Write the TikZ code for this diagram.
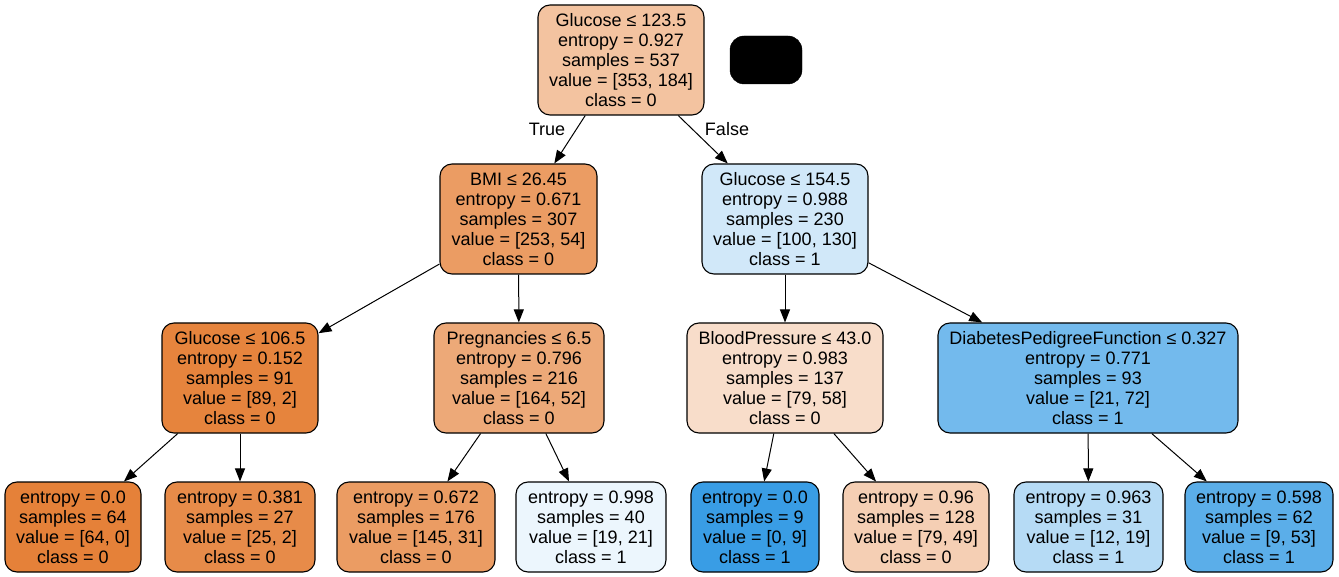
\documentclass[tikz,border=0pt]{standalone}
\usepackage{fontspec}
\setmainfont{Liberation Sans}
\usetikzlibrary{arrows.meta}
\definecolor{corange}{RGB}{229,129,57}
\definecolor{cblue}{RGB}{57,157,229}
\begin{document}
\begin{tikzpicture}[x=1pt,y=-1pt,
  tnode/.style={draw=black,line width=1.1pt,rounded corners=12pt,align=center,inner sep=0pt,
    font=\fontsize{18}{20}\selectfont,minimum height=110pt},
  leaf/.style={tnode,minimum height=90pt},
  edge/.style={line width=1pt,-{Triangle[length=13pt,width=10pt]}},
  elabel/.style={font=\fontsize{18}{20}\selectfont}]
\useasboundingbox (0,0) rectangle (1339,577);
\node[tnode,fill=corange!47.9!white,minimum width=166pt] (root) at (621,60)
  {Glucose ≤ 123.5\\entropy = 0.927\\samples = 537\\value = [353, 184]\\class = 0};
\node[draw=black,fill=black,rounded corners=14pt,minimum width=72pt,minimum height=48pt,inner sep=0pt] (legend) at (766,60) {};
\node[tnode,fill=corange!78.7!white,minimum width=157pt] (bmi) at (518.5,219)
  {BMI ≤ 26.45\\entropy = 0.671\\samples = 307\\value = [253, 54]\\class = 0};
\node[tnode,fill=cblue!23.1!white,minimum width=166pt] (glu2) at (785,219)
  {Glucose ≤ 154.5\\entropy = 0.988\\samples = 230\\value = [100, 130]\\class = 1};
\node[tnode,fill=corange!97.8!white,minimum width=156pt] (glu3) at (240,378)
  {Glucose ≤ 106.5\\entropy = 0.152\\samples = 91\\value = [89, 2]\\class = 0};
\node[tnode,fill=corange!68.3!white,minimum width=170pt] (preg) at (519,378)
  {Pregnancies ≤ 6.5\\entropy = 0.796\\samples = 216\\value = [164, 52]\\class = 0};
\node[tnode,fill=corange!26.6!white,minimum width=196pt] (bp) at (785,378)
  {BloodPressure ≤ 43.0\\entropy = 0.983\\samples = 137\\value = [79, 58]\\class = 0};
\node[tnode,fill=cblue!70.8!white,minimum width=300pt] (dpf) at (1088,378)
  {DiabetesPedigreeFunction ≤ 0.327\\entropy = 0.771\\samples = 93\\value = [21, 72]\\class = 1};
\node[leaf,fill=corange,minimum width=136pt] (l1) at (73,527)
  {entropy = 0.0\\samples = 64\\value = [64, 0]\\class = 0};
\node[leaf,fill=corange!92!white,minimum width=150pt] (l2) at (240,527)
  {entropy = 0.381\\samples = 27\\value = [25, 2]\\class = 0};
\node[leaf,fill=corange!78.6!white,minimum width=158pt] (l3) at (416,527)
  {entropy = 0.672\\samples = 176\\value = [145, 31]\\class = 0};
\node[leaf,fill=cblue!9.5!white,minimum width=150pt] (l4) at (591,527)
  {entropy = 0.998\\samples = 40\\value = [19, 21]\\class = 1};
\node[leaf,fill=cblue,minimum width=128pt] (l5) at (755,527)
  {entropy = 0.0\\samples = 9\\value = [0, 9]\\class = 1};
\node[leaf,fill=corange!38!white,minimum width=146pt] (l6) at (916,527)
  {entropy = 0.96\\samples = 128\\value = [79, 49]\\class = 0};
\node[leaf,fill=cblue!36.8!white,minimum width=149pt] (l7) at (1088.5,527)
  {entropy = 0.963\\samples = 31\\value = [12, 19]\\class = 1};
\node[leaf,fill=cblue!83!white,minimum width=148pt] (l8) at (1259,527)
  {entropy = 0.598\\samples = 62\\value = [9, 53]\\class = 1};
\draw[edge] (root) -- (bmi);
\draw[edge] (root) -- (glu2);
\node[elabel] (tlab) at (547,129) {True};
\node[elabel] (flab) at (727,129) {False};
\draw[edge] (bmi) -- (glu3);
\draw[edge] (bmi) -- (preg);
\draw[edge] (glu2) -- (bp);
\draw[edge] (glu2) -- (dpf);
\draw[edge] (glu3) -- (l1);
\draw[edge] (glu3) -- (l2);
\draw[edge] (preg) -- (l3);
\draw[edge] (preg) -- (l4);
\draw[edge] (bp) -- (l5);
\draw[edge] (bp) -- (l6);
\draw[edge] (dpf) -- (l7);
\draw[edge] (dpf) -- (l8);
\end{tikzpicture}
\end{document}
